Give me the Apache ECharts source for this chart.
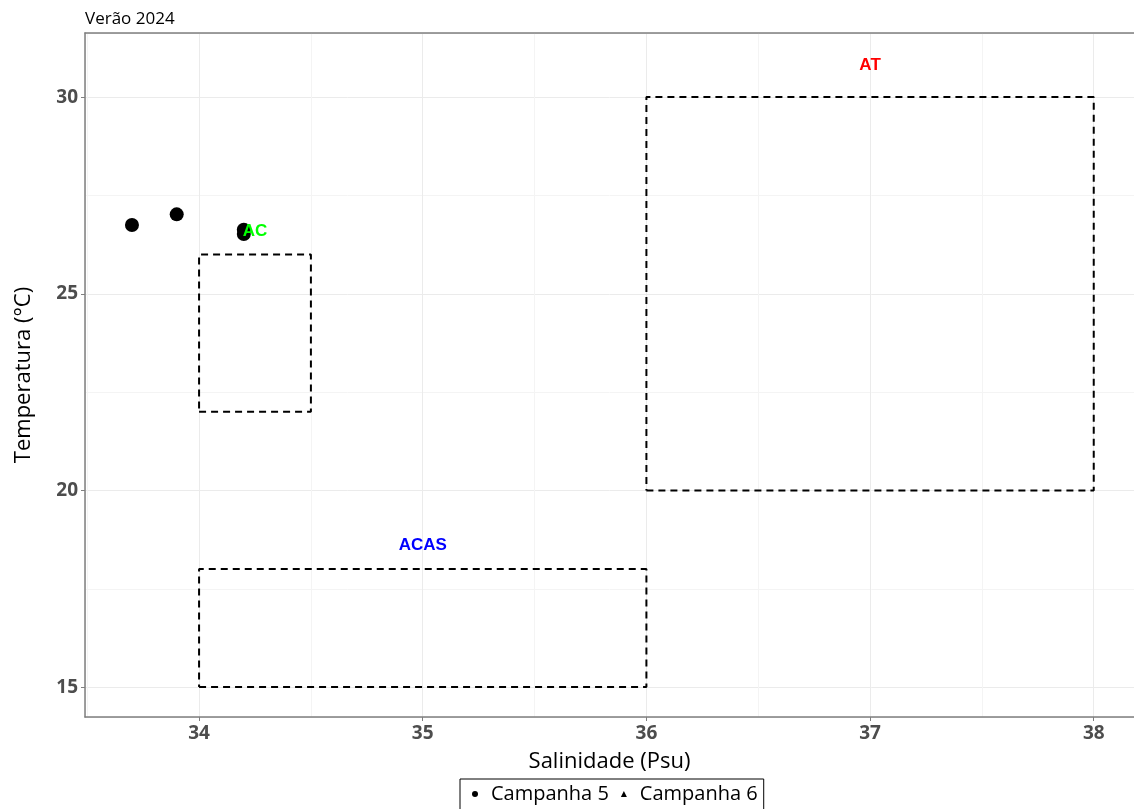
<!DOCTYPE html>
<html>
<head>
<meta charset="utf-8">
<script src="https://cdn.jsdelivr.net/npm/echarts@6/dist/echarts.min.js"></script>
<style>
  html, body { margin: 0; padding: 0; background: #fff; }
  #chart { width: 1134px; height: 809px; }
</style>
</head>
<body>
<div id="chart"></div>
<script>
// campanha 5 (campanha 6 has no points in this plot)
const c5Sal = [33.7, 33.9, 34.2, 34.2];
const c5Temp = [26.75, 27.02, 26.63, 26.52];
const c6Sal = [];
const c6Temp = [];

// water mass boxes
const massNames = ['AC', 'ACAS', 'AT'];
const massSalMin = [34, 34, 36];
const massSalMax = [34.5, 36, 38];
const massTempMin = [22, 15, 20];
const massTempMax = [26, 18, 30];
const massLabelSal = [34.25, 35, 37];
const massLabelTemp = [26.6, 18.6, 30.8];
const massColors = ['#00ff00', '#0000ff', '#ff0000'];

const xTicks = [34, 35, 36, 37, 38];
const yTicks = [15, 20, 25, 30];

const txtFont = 'Open Sans';
const axisGray = '#7f7f7f';

var series = [];

massNames.forEach(function (n, i) {
    series.push({
        name: 'box_' + n,
        type: 'line',
        silent: true,
        symbol: 'none',
        lineStyle: { color: '#000', width: 2, type: [7, 5] },
        data: [
            [massSalMin[i], massTempMin[i]],
            [massSalMax[i], massTempMin[i]],
            [massSalMax[i], massTempMax[i]],
            [massSalMin[i], massTempMax[i]],
            [massSalMin[i], massTempMin[i]]
        ],
        z: 2
    });
});

series.push({
    name: 'Campanha 5',
    type: 'scatter',
    symbol: 'circle',
    symbolSize: 14,
    itemStyle: { color: '#000', opacity: 1 },
    data: c5Sal.map(function (s, i) { return [s, c5Temp[i]]; }),
    z: 3
});
series.push({
    name: 'Campanha 6',
    type: 'scatter',
    symbol: 'triangle',
    symbolSize: 14,
    itemStyle: { color: '#000', opacity: 1 },
    data: c6Sal.map(function (s, i) { return [s, c6Temp[i]]; }),
    z: 3
});

series.push({
    name: 'labels',
    type: 'scatter',
    silent: true,
    symbolSize: 0,
    itemStyle: { opacity: 1 },
    data: massNames.map(function (n, i) {
        return {
            name: n,
            value: [massLabelSal[i], massLabelTemp[i]],
            label: {
                show: true, position: 'inside', formatter: n,
                color: massColors[i], fontFamily: 'Liberation Sans',
                fontWeight: 'bold', fontSize: 17, opacity: 1
            }
        };
    }),
    z: 5
});

const option = {
    animation: false,
    title: {
        text: 'Verão 2024',
        left: 80, top: 6,
        textStyle: { fontFamily: txtFont, fontSize: 17, fontWeight: 'normal', color: '#000' }
    },
    grid: { left: 85, right: 0, top: 33, bottom: 92, containLabel: false },
    legend: {
        data: ['Campanha 5', 'Campanha 6'],
        left: 460, top: 779,
        borderColor: '#000', borderWidth: 1, borderRadius: 0,
        padding: [5, 6, 10, 12],
        itemWidth: 6, itemHeight: 6, itemGap: 12,
        textStyle: { fontFamily: txtFont, fontSize: 20, color: '#000', padding: [0, 0, 0, 8] }
    },
    xAxis: [{
        type: 'value',
        min: 33.49, max: 38.18,
        minInterval: 1, maxInterval: 1,
        name: 'Salinidade (Psu)',
        nameLocation: 'middle', nameGap: 34,
        nameTextStyle: { fontFamily: txtFont, fontSize: 22, color: '#000' },
        axisLine: { show: true, lineStyle: { color: axisGray, width: 1.5 } },
        axisTick: { show: true, length: 4, lineStyle: { color: axisGray } },
        axisLabel: {
            showMinLabel: false, showMaxLabel: false,
            fontFamily: txtFont, fontWeight: 'bold', fontSize: 19, color: '#4d4d4d', margin: 7,
            formatter: function (v) { return xTicks.indexOf(v) >= 0 ? String(v) : ''; }
        },
        splitLine: { show: true, lineStyle: { color: '#ebebeb', width: 1 } },
        minorTick: { show: false, splitNumber: 2 },
        minorSplitLine: { show: true, lineStyle: { color: '#f4f4f4', width: 1 } }
    }, {
        type: 'value', position: 'top',
        min: 33.49, max: 38.18,
        axisLine: { show: true, onZero: false, lineStyle: { color: axisGray, width: 1.5 } },
        axisTick: { show: false }, axisLabel: { show: false }, splitLine: { show: false }
    }],
    yAxis: {
        type: 'value',
        min: 14.24, max: 31.63,
        minInterval: 5, maxInterval: 5,
        name: 'Temperatura (°C)',
        nameLocation: 'middle', nameGap: 50,
        nameTextStyle: { fontFamily: txtFont, fontSize: 22, color: '#000' },
        axisLine: { show: true, lineStyle: { color: axisGray, width: 1.5 } },
        axisTick: { show: true, length: 4, lineStyle: { color: axisGray } },
        axisLabel: {
            showMinLabel: false, showMaxLabel: false,
            fontFamily: txtFont, fontWeight: 'bold', fontSize: 19, color: '#4d4d4d', margin: 7,
            formatter: function (v) { return yTicks.indexOf(v) >= 0 ? String(v) : ''; }
        },
        splitLine: { show: true, lineStyle: { color: '#ebebeb', width: 1 } },
        minorTick: { show: false, splitNumber: 2 },
        minorSplitLine: { show: true, lineStyle: { color: '#f4f4f4', width: 1 } }
    },
    series: series
};

var myChart = echarts.init(document.getElementById('chart'));
myChart.setOption(option);
</script>
</body>
</html>
